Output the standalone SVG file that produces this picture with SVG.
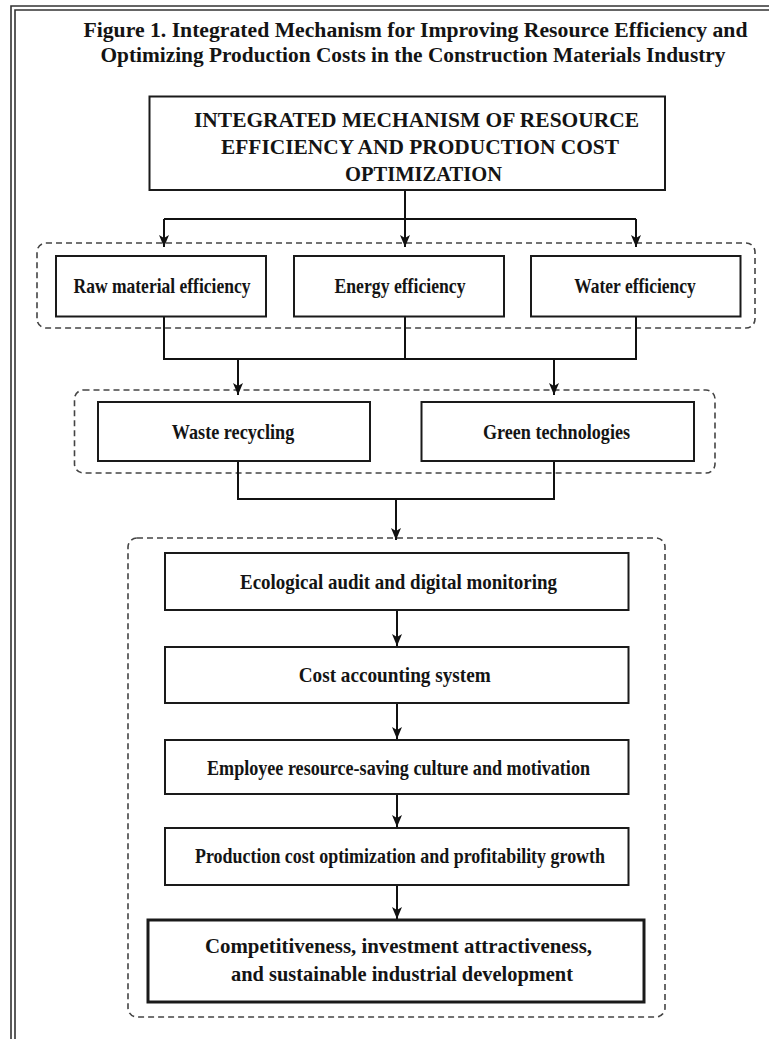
<svg xmlns="http://www.w3.org/2000/svg" width="769" height="1039" viewBox="0 0 769 1039">
<defs>
<marker id="arr" viewBox="0 0 12 10" refX="12" refY="5" markerWidth="12" markerHeight="10" markerUnits="userSpaceOnUse" orient="auto">
<path d="M0,0 L12,5 L0,10 L3,5 Z" fill="#111"/>
</marker>
<style>
.t{font-family:"Liberation Serif","Times New Roman",serif;font-weight:bold;fill:#141414;text-anchor:middle}
.box{fill:#fff;stroke:#1a1a1a;stroke-width:2}
.grp{fill:none;stroke:#444;stroke-width:1.6;stroke-dasharray:6 4}
.c{fill:none;stroke:#111;stroke-width:2}
.frame{fill:none;stroke:#333;stroke-width:1.6}
</style>
</defs>
<rect width="769" height="1039" fill="#fff"/>
<g id="frame">
<path class="frame" d="M11,1039 V6 H769"/>
<path class="frame" d="M15,1039 V10 H769"/>
</g>
<g id="title">
<text class="t" x="415.5" y="36.5" font-size="20" textLength="664" lengthAdjust="spacingAndGlyphs">Figure 1. Integrated Mechanism for Improving Resource Efficiency and</text>
<text class="t" x="413" y="62" font-size="20" textLength="625" lengthAdjust="spacingAndGlyphs">Optimizing Production Costs in the Construction Materials Industry</text>
</g>
<g id="groups">
<rect class="grp" x="37" y="243" width="718" height="85" rx="9"/>
<rect class="grp" x="74.5" y="390" width="640.5" height="83" rx="9"/>
<rect class="grp" x="128" y="538" width="537" height="479" rx="9"/>
</g>
<g id="connectors">
<path class="c" d="M405,190 V247" marker-end="url(#arr)"/>
<path class="c" d="M164,219 H636"/>
<path class="c" d="M164,219 V247" marker-end="url(#arr)"/>
<path class="c" d="M636,219 V247" marker-end="url(#arr)"/>
<path class="c" d="M164,316.5 V359 H636 V316.5 M405,316.5 V359"/>
<path class="c" d="M238,359 V395" marker-end="url(#arr)"/>
<path class="c" d="M554,359 V395" marker-end="url(#arr)"/>
<path class="c" d="M238,461 V499 H554 V461"/>
<path class="c" d="M396,499 V540" marker-end="url(#arr)"/>
<path class="c" d="M397,610 V646" marker-end="url(#arr)"/>
<path class="c" d="M397,703 V739" marker-end="url(#arr)"/>
<path class="c" d="M397,794 V827" marker-end="url(#arr)"/>
<path class="c" d="M397,885 V919" marker-end="url(#arr)"/>
</g>
<g id="node-top">
<rect class="box" x="149.5" y="96.5" width="515.5" height="93.5"/>
<text class="t" x="416.5" y="127" font-size="21" textLength="445" lengthAdjust="spacingAndGlyphs">INTEGRATED MECHANISM OF RESOURCE</text>
<text class="t" x="420" y="154" font-size="21" textLength="398" lengthAdjust="spacingAndGlyphs">EFFICIENCY AND PRODUCTION COST</text>
<text class="t" x="423.5" y="181" font-size="21" textLength="157" lengthAdjust="spacingAndGlyphs">OPTIMIZATION</text>
</g>
<g id="node-raw">
<rect class="box" x="56" y="256" width="210" height="60.5"/>
<text class="t" x="162" y="292.5" font-size="21" textLength="177" lengthAdjust="spacingAndGlyphs">Raw material efficiency</text>
</g>
<g id="node-energy">
<rect class="box" x="294" y="256" width="210" height="60.5"/>
<text class="t" x="400" y="292.5" font-size="21" textLength="131" lengthAdjust="spacingAndGlyphs">Energy efficiency</text>
</g>
<g id="node-water">
<rect class="box" x="531" y="256" width="209.5" height="60.5"/>
<text class="t" x="635" y="292.5" font-size="21" textLength="121.5" lengthAdjust="spacingAndGlyphs">Water efficiency</text>
</g>
<g id="node-waste">
<rect class="box" x="98" y="402" width="272" height="59"/>
<text class="t" x="233" y="438.5" font-size="21" textLength="122.5" lengthAdjust="spacingAndGlyphs">Waste recycling</text>
</g>
<g id="node-green">
<rect class="box" x="421.5" y="402" width="272.5" height="59"/>
<text class="t" x="556.5" y="438.5" font-size="21" textLength="147" lengthAdjust="spacingAndGlyphs">Green technologies</text>
</g>
<g id="node-audit">
<rect class="box" x="165" y="553" width="463.5" height="57"/>
<text class="t" x="398.5" y="588.5" font-size="21" textLength="317" lengthAdjust="spacingAndGlyphs">Ecological audit and digital monitoring</text>
</g>
<g id="node-cost">
<rect class="box" x="165" y="647" width="463.5" height="56"/>
<text class="t" x="394.7" y="682" font-size="21" textLength="192" lengthAdjust="spacingAndGlyphs">Cost accounting system</text>
</g>
<g id="node-employee">
<rect class="box" x="165" y="740" width="463.5" height="54"/>
<text class="t" x="398.5" y="774.5" font-size="21" textLength="383" lengthAdjust="spacingAndGlyphs">Employee resource-saving culture and motivation</text>
</g>
<g id="node-production">
<rect class="box" x="165" y="828" width="463.5" height="57"/>
<text class="t" x="400" y="863" font-size="21" textLength="410" lengthAdjust="spacingAndGlyphs">Production cost optimization and profitability growth</text>
</g>
<g id="node-final">
<rect class="box" x="148" y="920" width="496" height="82" style="stroke-width:3"/>
<text class="t" x="398.5" y="953" font-size="22" textLength="387" lengthAdjust="spacingAndGlyphs">Competitiveness, investment attractiveness,</text>
<text class="t" x="402" y="981" font-size="22" textLength="342" lengthAdjust="spacingAndGlyphs">and sustainable industrial development</text>
</g>
</svg>
